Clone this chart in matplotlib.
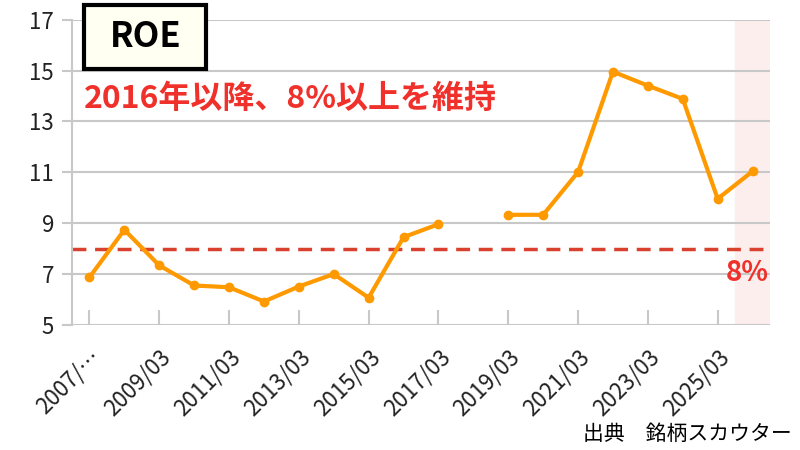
import numpy as np
import matplotlib.pyplot as plt
from matplotlib.patches import Rectangle

plt.rcParams['font.family'] = ['Noto Sans CJK JP', 'DejaVu Sans']

# data
years = [f"{y}/03" for y in range(2007, 2027)]
roe = [6.87, 8.74, 7.34, 6.55, 6.48, 5.92, 6.51, 7.0, 6.07, 8.45,
       8.96, np.nan, 9.33, 9.33, 11.01, 14.96, 14.41, 13.89, 9.96, 11.04]
tick_labels = ["2007/…", "2009/03", "2011/03", "2013/03", "2015/03",
               "2017/03", "2019/03", "2021/03", "2023/03", "2025/03"]
target = 8

x = np.arange(len(years))

fig = plt.figure(figsize=(8, 4.5), dpi=100)
ax = fig.add_axes([0.09, 0.278, 0.8725, 0.678])

ax.set_xlim(-0.5, len(years) - 0.5)
ax.set_ylim(5, 17)

# forecast highlight
ax.axvspan(len(years) - 1.5, len(years) - 0.5, color='#fdeeee', zorder=0)

ax.set_yticks(range(5, 18, 2))
ax.yaxis.grid(True, color='#c8c8c8', linewidth=1.5)
ax.set_axisbelow(True)

ax.plot(x, roe, color='#ff9900', linewidth=3, marker='o', markersize=6, zorder=3)
ax.axhline(target, color='#d9412e', linewidth=2.5, linestyle=(0, (4, 2.5)), zorder=2)

ax.set_xticks(x[::2])
ax.set_xticklabels(tick_labels, rotation=45, ha='right', rotation_mode='anchor',
                   fontsize=16, color='#222222')
ax.tick_params(axis='x', direction='in', length=11, width=1.5, color='#c8c8c8', pad=15)
ax.tick_params(axis='y', direction='out', length=7, width=1.5, color='#c8c8c8',
               labelsize=16, labelcolor='#222222', pad=6)

for s in ['top', 'right', 'bottom']:
    ax.spines[s].set_visible(False)
ax.spines['left'].set_color('#c8c8c8')
ax.spines['left'].set_linewidth(1.5)

# title box
fig.patches.append(Rectangle((0.105, 0.847), 0.153, 0.143, transform=fig.transFigure,
                             facecolor='#fffff2', edgecolor='black', linewidth=3,
                             zorder=5))
fig.text(0.1815, 0.918, "ROE", fontsize=25, fontweight='bold', color='black',
         ha='center', va='center', zorder=6)

fig.text(0.105, 0.78, "2016年以降、8%以上を維持", fontsize=23, fontweight='bold',
         color='#f0302a', ha='left', va='center')

ax.text(len(years) - 0.55, 7.6, "8%", fontsize=20, fontweight='bold',
        color='#f0302a', ha='right', va='top')

fig.text(0.99, 0.012, "出典　銘柄スカウター", fontsize=15, color='black',
         ha='right', va='bottom')

fig.savefig("out.png", dpi=100)
